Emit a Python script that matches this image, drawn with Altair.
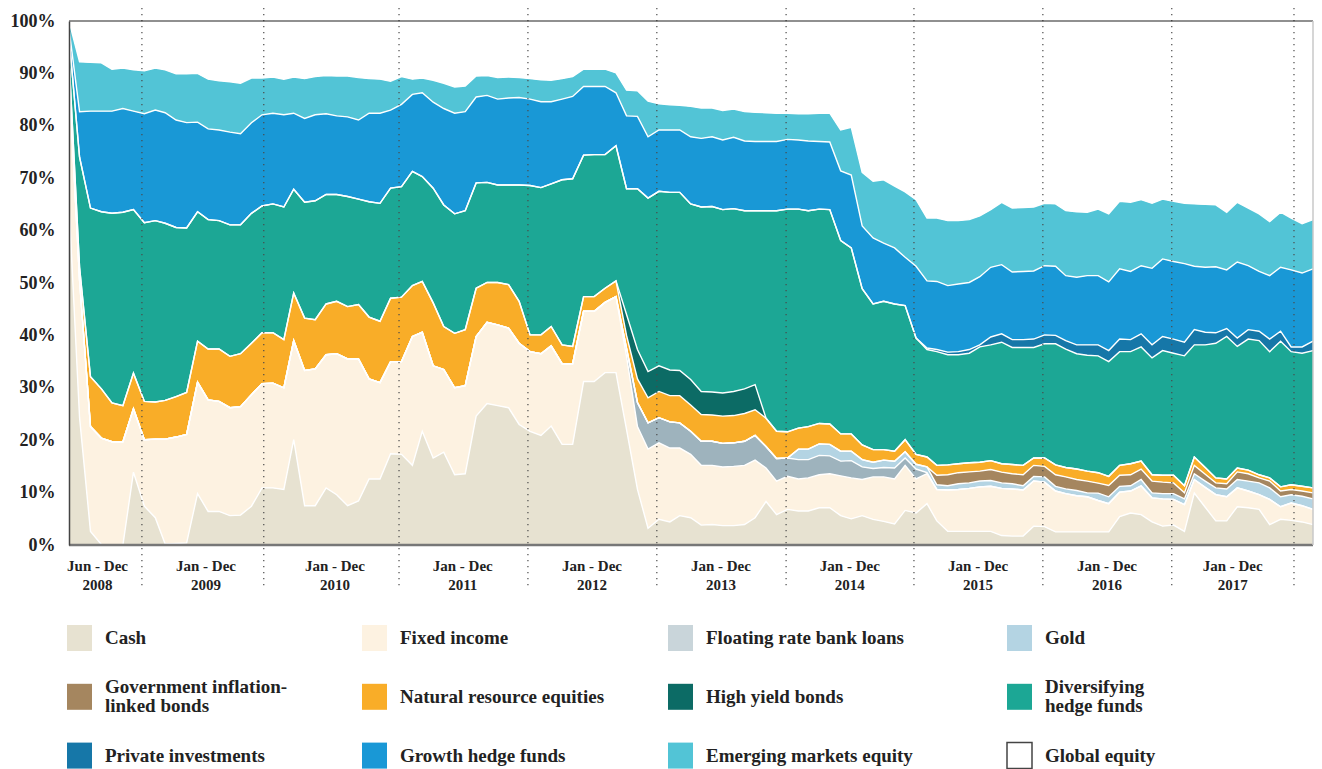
import altair as alt
import pandas as pd

# ---------------- data (monthly shares, % of portfolio) ----------------
months = pd.date_range("2008-06-01", "2018-02-01", freq="MS")

cash = [
    65, 24.3, 2.6, 0.1, 0, 0, 13.9, 7.4, 5.2, 0.2, 0.3, 0.4,
    9.8, 6.4, 6.4, 5.6, 5.7, 7.4, 10.9, 10.9, 10.6, 20.1, 7.5, 7.5,
    10.9, 9.6, 7.5, 8.4, 12.6, 12.6, 17.4, 17.3, 15.2, 21.7, 16.6, 17.7,
    13.4, 13.6, 24.6, 27.0, 26.6, 26.2, 23.0, 21.7, 20.9, 22.7, 19.2, 19.2,
    31.2, 31.2, 32.9, 32.9, 22.0, 10.6, 3.2, 4.9, 4.4, 5.6, 5.2, 3.8,
    3.9, 3.7, 3.7, 3.9, 5.2, 8.3, 5.8, 6.8, 6.5, 6.5, 7.1, 7.1,
    5.6, 5.0, 5.6, 4.9, 4.5, 4.0, 6.6, 6.1, 7.9, 4.6, 2.6, 2.6,
    2.6, 2.6, 2.6, 1.8, 1.7, 1.7, 3.6, 3.5, 2.5, 2.5, 2.5, 2.5,
    2.5, 2.5, 5.4, 6.1, 5.8, 4.4, 3.6, 3.8, 2.6, 9.9, 7.2, 4.6,
    4.6, 7.3, 7.1, 6.8, 3.9, 4.9, 4.7, 4.4, 3.9]

fixed_income = [
    25, 26.2, 20.0, 20.3, 19.7, 19.7, 12.1, 12.7, 15.0, 20.0, 20.3, 20.7,
    21.3, 21.3, 21.0, 20.6, 20.7, 21.3, 19.9, 20.0, 19.4, 18.9, 25.8, 26.1,
    25.4, 26.9, 28.0, 27.1, 19.1, 18.4, 17.6, 17.7, 24.6, 18.9, 17.6, 15.8,
    16.6, 16.8, 15.2, 15.5, 15.4, 15.2, 15.5, 15.2, 15.6, 15.3, 15.4, 15.4,
    13.4, 13.4, 13.4, 14.5, 14.0, 12.0, 15.1, 14.6, 14.1, 12.9, 12.1, 11.4,
    11.3, 11.2, 11.3, 11.3, 11.0, 6.4, 6.4, 6.3, 6.1, 6.3, 6.3, 6.5,
    7.6, 7.8, 6.9, 8.1, 8.5, 8.6, 8.6, 6.5, 5.7, 6.0, 7.9, 8.0,
    8.2, 8.5, 8.6, 9.0, 9.0, 8.8, 8.6, 8.5, 7.8, 7.3, 6.9, 6.7,
    6.0, 5.4, 4.7, 4.2, 5.5, 4.6, 5.2, 4.9, 5.1, 2.6, 3.8, 5.0,
    4.6, 3.6, 3.2, 2.8, 4.8, 2.4, 3.3, 3.1, 2.9]

floating_rate = [
    0, 0, 0, 0, 0, 0, 0, 0, 0, 0, 0, 0,
    0, 0, 0, 0, 0, 0, 0, 0, 0, 0, 0, 0,
    0, 0, 0, 0, 0, 0, 0, 0, 0, 0, 0, 0,
    0, 0, 0, 0, 0, 0, 0, 0, 0, 0, 0, 0,
    0, 0, 0, 0, 1.5, 4.6, 5.0, 4.8, 5.0, 4.8, 4.4, 4.6,
    4.6, 4.5, 4.5, 4.6, 4.7, 4.1, 4.3, 3.5, 3.7, 3.5, 3.7, 3.4,
    2.8, 3.3, 2.4, 1.6, 1.8, 2.1, 1.4, 1.9, 0.2, 0, 0, 0,
    0, 0, 0, 0, 0, 0, 0, 0, 0, 0, 0, 0,
    0, 0, 0, 0, 0, 0, 0, 0, 0, 0, 0, 0,
    0, 0, 0, 0, 0, 0, 0, 0, 0]

gold = [
    0, 0, 0, 0, 0, 0, 0, 0, 0, 0, 0, 0,
    0, 0, 0, 0, 0, 0, 0, 0, 0, 0, 0, 0,
    0, 0, 0, 0, 0, 0, 0, 0, 0, 0, 0, 0,
    0, 0, 0, 0, 0, 0, 0, 0, 0, 0, 0, 0,
    0, 0, 0, 0, 0, 0, 0, 0, 0, 0, 0, 0,
    0, 0, 0, 0, 0, 0, 0, 0, 2.0, 2.0, 2.2, 2.2,
    1.9, 1.8, 1.4, 1.2, 1.4, 1.3, 1.2, 0.9, 1.1, 0.9, 0.8, 1.1,
    1.05, 1.1, 1.1, 1.05, 1.0, 0.8, 0.9, 1.0, 0.9, 0.9, 1.0, 0.75,
    1.4, 1.3, 1.1, 1.0, 1.2, 0.95, 1.0, 1.1, 1.1, 1.1, 1.2, 1.3,
    1.5, 1.6, 1.9, 2.25, 2.2, 1.9, 1.6, 1.8, 2.0]

inflation_linked = [
    0, 0, 0, 0, 0, 0, 0, 0, 0, 0, 0, 0,
    0, 0, 0, 0, 0, 0, 0, 0, 0, 0, 0, 0,
    0, 0, 0, 0, 0, 0, 0, 0, 0, 0, 0, 0,
    0, 0, 0, 0, 0, 0, 0, 0, 0, 0, 0, 0,
    0, 0, 0, 0, 0, 0, 0, 0, 0, 0, 0, 0,
    0, 0, 0, 0, 0, 0, 0, 0, 0, 0, 0, 0,
    0, 0, 0, 0, 0, 0, 0, 0, 0, 1.8, 2.1, 2.1,
    2.1, 1.9, 2.1, 2.05, 1.9, 2.1, 2.1, 2.0, 2.2, 2.3, 2.1, 2.25,
    1.9, 2.15, 2.1, 2.1, 2.0, 2.25, 2.2, 2.05, 1.15, 1.6, 1.3, 0.95,
    1.0, 1.45, 1.4, 0.95, 1.3, 1.1, 1.0, 1.0, 1.15]

natural_resources = [
    3, 2.5, 9.5, 9.4, 7.4, 6.9, 6.8, 7.3, 7.1, 7.4, 7.7, 8.0,
    7.8, 9.7, 10.0, 9.8, 10.1, 9.8, 9.7, 9.6, 9.2, 9.1, 10.0, 9.4,
    9.7, 10.0, 10.0, 10.4, 11.8, 11.7, 12.1, 12.3, 9.7, 9.7, 12.0, 8.2,
    10.4, 10.7, 9.2, 7.6, 8.1, 8.3, 8.0, 3.2, 3.6, 3.7, 3.6, 3.3,
    2.8, 2.8, 2.7, 3.0, 2.5, 4.5, 4.8, 5.0, 5.0, 5.2, 5.0, 5.1,
    5.0, 5.2, 5.2, 5.3, 4.9, 5.4, 5.2, 5.0, 4.0, 4.3, 3.9, 3.9,
    3.3, 3.3, 2.8, 2.4, 2.0, 1.9, 2.3, 1.9, 1.9, 1.9, 1.9, 1.7,
    1.75, 1.7, 1.7, 1.6, 1.75, 1.8, 1.4, 1.6, 1.9, 1.8, 2.0, 1.9,
    2.0, 1.75, 1.9, 2.1, 1.5, 1.2, 1.3, 1.45, 1.35, 1.6, 1.3, 0.95,
    0.9, 0.75, 0.7, 0.6, 0.6, 0.8, 0.9, 0.9, 0.95]

high_yield = [
    0, 0, 0, 0, 0, 0, 0, 0, 0, 0, 0, 0,
    0, 0, 0, 0, 0, 0, 0, 0, 0, 0, 0, 0,
    0, 0, 0, 0, 0, 0, 0, 0, 0, 0, 0, 0,
    0, 0, 0, 0, 0, 0, 0, 0, 0, 0, 0, 0,
    0, 0, 0, 0, 4.0, 5.6, 5.0, 4.9, 4.9, 4.8, 4.9, 4.4,
    4.4, 4.4, 4.6, 4.7, 4.8, 0, 0, 0, 0, 0, 0, 0,
    0, 0, 0, 0, 0, 0, 0, 0, 0, 0, 0, 0,
    0, 0, 0, 0, 0, 0, 0, 0, 0, 0, 0, 0,
    0, 0, 0, 0, 0, 0, 0, 0, 0, 0, 0, 0,
    0, 0, 0, 0, 0, 0, 0, 0, 0]

diversifying = [
    4, 21.0, 32.2, 33.8, 36.2, 36.9, 31.2, 34.1, 34.6, 33.8, 32.3, 31.4,
    24.7, 24.7, 24.5, 25.1, 24.6, 24.8, 24.2, 24.6, 25.3, 19.8, 22.1, 22.7,
    20.9, 20.4, 21.0, 20.1, 22.0, 22.5, 21.0, 21.1, 21.8, 20.0, 21.9, 23.2,
    22.8, 22.7, 20.1, 19.1, 18.6, 19.0, 22.2, 28.5, 28.1, 27.2, 31.5, 32.0,
    27.0, 27.1, 25.5, 25.8, 24.0, 30.7, 33.1, 33.3, 33.9, 34.0, 33.5, 35.2,
    35.4, 35.0, 34.9, 34.0, 33.2, 39.6, 42.1, 42.5, 41.8, 41.2, 40.9, 40.9,
    36.9, 35.5, 29.8, 27.8, 28.3, 28.1, 25.6, 22.2, 20.5, 21.7, 21.0, 20.8,
    20.9, 22.0, 22.1, 23.2, 22.35, 22.5, 21.1, 21.8, 23.1, 22.6, 22.0, 22.1,
    22.3, 21.9, 21.7, 21.4, 21.8, 22.3, 23.8, 23.3, 24.8, 21.4, 23.4, 25.7,
    27.2, 23.2, 25.0, 25.6, 24.1, 27.8, 25.4, 25.4, 26.2]

private_inv = [
    0, 0, 0, 0, 0, 0, 0, 0, 0, 0, 0, 0,
    0, 0, 0, 0, 0, 0, 0, 0, 0, 0, 0, 0,
    0, 0, 0, 0, 0, 0, 0, 0, 0, 0, 0, 0,
    0, 0, 0, 0, 0, 0, 0, 0, 0, 0, 0, 0,
    0, 0, 0, 0, 0, 0, 0, 0, 0, 0, 0, 0,
    0, 0, 0, 0, 0, 0, 0, 0, 0, 0, 0, 0,
    0, 0, 0, 0, 0, 0, 0, 0, 0.3, 0.4, 0.5, 0.6,
    0.7, 0.4, 1.5, 1.6, 1.5, 1.5, 1.6, 1.7, 1.6, 1.6, 1.7, 2.0,
    2.1, 2.1, 2.4, 2.3, 2.5, 2.5, 2.7, 2.7, 2.6, 2.9, 2.4, 2.0,
    1.5, 1.6, 1.8, 1.8, 2.4, 1.9, 0.9, 1.2, 1.8]

growth = [
    1.5, 8.7, 18.5, 19.2, 19.5, 19.8, 18.8, 20.8, 21.1, 21.1, 20.5, 20.1,
    17.1, 17.3, 17.3, 17.7, 17.4, 17.3, 17.4, 17.3, 17.6, 14.5, 16.0, 16.4,
    15.4, 15.0, 15.2, 15.1, 16.9, 17.2, 14.9, 15.7, 14.7, 16.0, 16.4, 18.4,
    19.2, 18.9, 16.4, 16.6, 16.4, 16.6, 16.7, 16.5, 16.4, 15.7, 15.4, 15.7,
    13.1, 13.0, 13.0, 10.1, 13.9, 13.8, 11.7, 11.7, 11.9, 11.9, 12.8, 13.1,
    13.3, 13.3, 13.6, 13.3, 13.2, 13.2, 13.2, 13.3, 13.2, 13.3, 12.9, 12.9,
    13.3, 13.9, 12.0, 12.6, 11.1, 10.7, 9.2, 13.7, 12.8, 13.0, 12.7, 12.9,
    12.8, 13.0, 13.3, 13.2, 12.9, 13.0, 13.0, 13.2, 13.2, 12.4, 12.9, 13.2,
    13.2, 13.1, 13.4, 13.0, 13.0, 14.6, 14.8, 14.8, 15.0, 12.1, 12.4, 12.6,
    11.2, 14.5, 12.2, 11.4, 12.1, 12.2, 14.7, 14.1, 13.8]

emerging = [
    1.5, 9.5, 9.3, 9.2, 8.0, 7.7, 7.9, 8.2, 8.0, 8.2, 8.8, 9.3,
    9.3, 9.5, 9.4, 9.6, 9.6, 8.5, 7.0, 6.9, 6.8, 6.9, 7.6, 7.3,
    7.3, 7.6, 7.8, 8.1, 6.6, 6.5, 5.5, 5.3, 2.9, 2.8, 4.2, 4.8,
    5.0, 4.9, 4.0, 3.8, 4.1, 4.0, 3.8, 3.9, 4.2, 4.1, 3.9, 3.8,
    3.3, 3.3, 3.3, 3.8, 4.9, 4.9, 6.8, 5.0, 4.8, 4.7, 5.8, 5.8,
    5.5, 5.6, 5.4, 5.6, 5.6, 5.5, 5.4, 5.0, 5.0, 5.2, 5.4, 5.5,
    7.8, 9.1, 10.2, 10.8, 12.1, 11.8, 12.5, 12.7, 12.0, 12.1, 12.4, 12.1,
    12.0, 11.6, 11.0, 11.9, 12.2, 12.2, 12.2, 11.9, 11.9, 12.4, 12.5, 12.1,
    12.7, 13.0, 12.9, 13.2, 12.6, 12.4, 11.4, 11.5, 11.5, 11.9, 12.0, 11.8,
    11.0, 11.4, 11.0, 11.0, 10.3, 10.5, 9.9, 9.4, 9.4]

global_equity = [
    0, 7.8, 7.9, 8.0, 9.2, 9.0, 9.3, 9.5, 9.0, 9.3, 10.1, 10.1,
    10.0, 11.1, 11.4, 11.6, 11.9, 10.9, 10.9, 10.7, 11.1, 10.7, 11.0, 10.6,
    10.4, 10.5, 10.5, 10.8, 11.0, 11.1, 11.5, 10.6, 11.1, 10.9, 11.3, 11.9,
    12.6, 12.4, 10.5, 10.4, 10.8, 10.7, 10.8, 11.0, 11.2, 11.3, 11.0, 10.6,
    9.2, 9.2, 9.2, 9.9, 13.2, 13.3, 15.3, 15.8, 16.0, 16.1, 16.3, 16.6,
    16.6, 17.1, 16.8, 17.3, 17.4, 17.5, 17.6, 17.6, 17.7, 17.7, 17.6, 17.6,
    20.8, 20.3, 28.9, 30.6, 30.3, 31.5, 32.6, 34.1, 37.6, 37.6, 38.1, 38.1,
    37.9, 37.2, 36.0, 34.6, 35.7, 35.6, 35.5, 34.8, 34.9, 36.2, 36.4, 36.5,
    35.9, 36.8, 34.4, 34.6, 34.1, 34.8, 34.0, 34.4, 34.8, 34.9, 35.0, 35.1,
    36.5, 34.6, 35.7, 36.8, 38.3, 36.5, 37.6, 38.7, 37.9]

series_names = [
    "Cash", "Fixed income", "Floating rate bank loans", "Gold",
    "Government inflation-linked bonds", "Natural resource equities",
    "High yield bonds", "Diversifying hedge funds", "Private investments",
    "Growth hedge funds", "Emerging markets equity", "Global equity"]
series_values = [cash, fixed_income, floating_rate, gold, inflation_linked,
                 natural_resources, high_yield, diversifying, private_inv,
                 growth, emerging, global_equity]
legend_labels = [
    "Cash", "Fixed income", "Floating rate bank loans", "Gold",
    "Government inflation-\nlinked bonds", "Natural resource equities",
    "High yield bonds", "Diversifying\nhedge funds", "Private investments",
    "Growth hedge funds", "Emerging markets equity", "Global equity"]

# year separators and period labels (dates)
separator_dates = ["2008-12-25", "2009-12-06", "2010-12-25", "2011-12-26",
                   "2012-12-26", "2013-12-28", "2014-12-26", "2015-12-27",
                   "2016-12-27", "2017-12-09"]
period_dates = ["2008-08-21", "2009-06-25", "2010-06-26", "2011-06-24",
                "2012-06-25", "2013-06-26", "2014-06-27", "2015-06-26",
                "2016-06-26", "2017-06-18"]
period_labels = ["Jun - Dec\n2008", "Jan - Dec\n2009", "Jan - Dec\n2010",
                 "Jan - Dec\n2011", "Jan - Dec\n2012", "Jan - Dec\n2013",
                 "Jan - Dec\n2014", "Jan - Dec\n2015", "Jan - Dec\n2016",
                 "Jan - Dec\n2017"]

# ---------------- styles ----------------
area_colors = ["#e7e2d1", "#fdf2e1", "#9eb3bd", "#b4d4e3", "#a5865f", "#f9ad28",
               "#0c6b65", "#1ca795", "#1677a8", "#1998d6", "#52c4d6", "#ffffff"]
legend_colors = ["#e7e2d1", "#fdf2e1", "#c9d5da", "#b4d4e3", "#a5865f", "#f9ad28",
                 "#0c6b65", "#1ca795", "#1677a8", "#1998d6", "#52c4d6", "#ffffff"]
FONT = "Liberation Serif"
W, H = 1244, 524

# ---------------- tables ----------------
rows = []
for k, (name, vals) in enumerate(zip(series_names, series_values)):
    for d, v in zip(months, vals):
        rows.append({"date": d, "series": name, "order": k, "value": v})
df = pd.DataFrame(rows)

sep_df = pd.DataFrame({"date": pd.to_datetime(separator_dates)})
lab_df = pd.DataFrame({"date": pd.to_datetime(period_dates), "label": period_labels})
leg_df = pd.DataFrame({"series": series_names, "label": legend_labels,
                       "idx": list(range(len(series_names)))})
one = pd.DataFrame({"k": [0]})

xscale = alt.Scale(domain=[alt.DateTime(year=2008, month=6, date=1),
                           alt.DateTime(year=2018, month=2, date=1)], nice=False)
yscale = alt.Scale(domain=[0, 100], nice=False)
color_scale = alt.Scale(domain=series_names, range=area_colors)

base = alt.Chart(df).transform_stack(
    stack="value", groupby=["date"], as_=["y0", "y1"],
    sort=[alt.SortField("order", order="ascending")])

areas = base.mark_area(interpolate="linear").encode(
    x=alt.X("date:T", scale=xscale, axis=None),
    y=alt.Y("y1:Q", scale=yscale, stack=False,
            axis=alt.Axis(values=list(range(0, 101, 10)), labelExpr="datum.value + '%'",
                          grid=False, ticks=False, tickSize=0, domain=True,
                          domainColor="#444", domainWidth=1.5, labelFont=FONT,
                          labelFontWeight="bold", labelFontSize=18, labelColor="#222",
                          labelPadding=14, labelFlush=False, labelOverlap=False,
                          labelBound=False, title=None, zindex=1)),
    y2="y0:Q",
    color=alt.Color("series:N", scale=color_scale, legend=None),
)

lines = base.transform_filter("datum.series != 'Global equity'").mark_line(
    color="white", strokeWidth=1.4, interpolate="linear").encode(
    x=alt.X("date:T", scale=xscale, axis=None),
    y=alt.Y("y1:Q", scale=yscale, stack=False),
    detail="series:N",
)

separators = alt.Chart(sep_df).mark_rule(
    color="#4a4a4a", strokeWidth=1.2, strokeDash=[1.3, 4.7]).encode(
    x=alt.X("date:T", scale=xscale, axis=None),
    y=alt.value(-13), y2=alt.value(569),
)

period_text = alt.Chart(lab_df).mark_text(
    font=FONT, fontWeight="bold", fontSize=15, color="#222", align="center",
    baseline="middle", lineBreak="\n", lineHeight=18.5).encode(
    x=alt.X("date:T", scale=xscale, axis=None),
    y=alt.value(545),
    text="label:N",
)

top_rule = alt.Chart(one).mark_rule(color="#222", strokeWidth=1.2).encode(
    y=alt.datum(100))
bottom_rule = alt.Chart(one).mark_rule(color="#777", strokeWidth=2.5).encode(
    y=alt.datum(0))
right_rule = alt.Chart(one).mark_rule(color="#c8c8c8", strokeWidth=1.5).encode(
    x=alt.value(W), y=alt.value(0), y2=alt.value(H))

main = alt.layer(areas, lines, separators, period_text, top_rule, bottom_rule, right_rule)

# ---------------- legend (4 columns x 3 rows) ----------------
lx = alt.Scale(domain=[0, W], range=[0, W])
ly = alt.Scale(domain=[0, H], range=[0, H])
leg = alt.Chart(leg_df).transform_calculate(
    col="datum.idx % 4", row="floor(datum.idx / 4)"
).transform_calculate(
    bx="datum.col == 0 ? -2 : datum.col == 1 ? 293 : datum.col == 2 ? 599 : 938",
    cy="617 + 58.8 * datum.row",
).transform_calculate(
    bx2="datum.bx + 25", by1="datum.cy - 13", by2="datum.cy + 13", tx="datum.bx + 38",
    ty="datum.cy - (indexof(datum.label, '\\n') >= 0 ? 9.5 : 0)",
)
leg_boxes = leg.mark_rect(strokeWidth=1.5).encode(
    x=alt.X("bx:Q", scale=lx, axis=None), x2="bx2:Q",
    y=alt.Y("by1:Q", scale=ly, axis=None), y2="by2:Q",
    color=alt.Color("series:N", scale=alt.Scale(domain=series_names, range=legend_colors),
                    legend=None),
    stroke=alt.condition("datum.series == 'Global equity'", alt.value("#444"),
                         alt.value("transparent")),
)
leg_text = leg.mark_text(
    font=FONT, fontWeight="bold", fontSize=19, color="#222", align="left",
    baseline="middle", lineBreak="\n", lineHeight=19).encode(
    x=alt.X("tx:Q", scale=lx, axis=None),
    y=alt.Y("ty:Q", scale=ly, axis=None),
    text="label:N",
)
legend_layer = alt.layer(leg_boxes, leg_text)

chart = alt.layer(main, legend_layer).resolve_scale(
    x="independent", y="independent", color="independent"
).properties(
    width=W, height=H,
    autosize=alt.AutoSizeParams(type="none"),
    padding={"left": 61, "top": 13, "right": 1, "bottom": 224},
    background="white",
).configure_view(strokeWidth=0)

chart.save("out.html", embed_options={"renderer": "svg", "actions": False})
